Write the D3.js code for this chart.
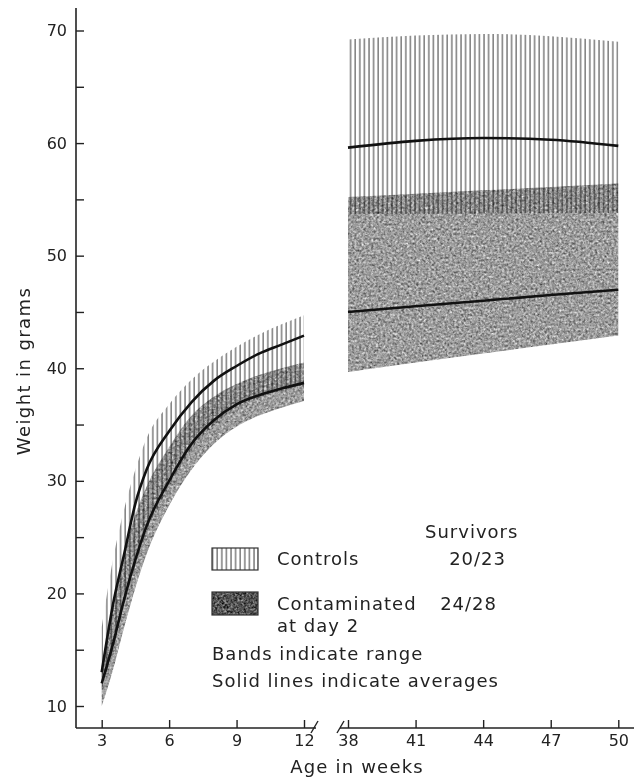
<!DOCTYPE html>
<html><head><meta charset="utf-8">
<script src="https://cdn.jsdelivr.net/npm/d3@7"></script>
<style>
html,body{margin:0;padding:0;background:#fff;}
svg{display:block;}
</style></head><body>
<svg id="chart" width="634" height="783"></svg>
<script>
// ---- data ----
const weeksLeft = [3, 3.5, 4, 4.5, 5, 6, 7, 8, 9, 10, 11, 12];
const controlsUpperLeft = [17, 23, 27.5, 31, 33.8, 36.8, 39, 40.6, 41.9, 43, 43.9, 44.7];
const controlsAvgLeft   = [13, 19, 23.5, 28, 31, 34.4, 37, 38.9, 40.2, 41.3, 42.1, 42.9];
const controlsLowerLeft = [11.5, 15, 19, 22.5, 25.5, 29.5, 32.8, 35, 36.5, 37.4, 38, 38.5];
const contamUpperLeft   = [13.5, 19, 23.5, 27, 29.5, 33, 35.8, 37.5, 38.6, 39.4, 40, 40.5];
const contamAvgLeft     = [12, 15.5, 19.5, 23, 26, 30, 33.3, 35.4, 36.8, 37.6, 38.2, 38.7];
const contamLowerLeft   = [10, 13.2, 17, 20.5, 23.5, 27.8, 31, 33.3, 34.8, 35.8, 36.5, 37.1];

const weeksRight = [38, 41, 44, 47, 50];
const controlsUpperRight = [69.2, 69.55, 69.7, 69.5, 69.0];
const controlsAvgRight   = [59.6, 60.2, 60.45, 60.3, 59.75];
const controlsLowerRight = [53.7, 53.7, 53.75, 53.8, 53.8];
const contamUpperRight   = [55.2, 55.5, 55.8, 56.1, 56.4];
const contamAvgRight     = [45.0, 45.5, 46.0, 46.5, 46.97];
const contamLowerRight   = [39.66, 40.5, 41.3, 42.1, 42.9];

const xTicksLeft = [3, 6, 9, 12];
const xTicksRight = [38, 41, 44, 47, 50];
const yTicks = [10, 15, 20, 25, 30, 35, 40, 45, 50, 55, 60, 65, 70];
const yTickLabels = ["10", "", "20", "", "30", "", "40", "", "50", "", "60", "", "70"];

const xTitle = "Age in weeks";
const yTitle = "Weight in grams";
const legendHeader = "Survivors";
const legendNames = ["Controls", "Contaminated"];
const legendSub = "at day 2";
const legendSurvivors = ["20/23", "24/28"];
const noteLines = ["Bands indicate range", "Solid lines indicate averages"];

// ---- layout ----
const FONT = "DejaVu Sans, sans-serif";
const INK = "#222";
const svg = d3.select("#chart");
const axisX = 76, axisY = 728;
const y = d3.scaleLinear().domain([10, 70]).range([706, 30.5]);
const xL = d3.scaleLinear().domain([3, 12]).range([101.7, 304]);
const xR = d3.scaleLinear().domain([38, 50]).range([348, 618.3]);

const defs = svg.append("defs");
const hatch = defs.append("pattern").attr("id", "hatch")
  .attr("patternUnits", "userSpaceOnUse").attr("width", 4.6).attr("height", 8);
hatch.append("line").attr("x1", 1).attr("x2", 1).attr("y1", 0).attr("y2", 8)
  .attr("stroke", "#4a4a4a").attr("stroke-width", 1.1);

function noiseFilter(id, a, b, seed, freq) {
  const f = defs.append("filter").attr("id", id)
    .attr("x", 0).attr("y", 0).attr("width", 1).attr("height", 1)
    .attr("color-interpolation-filters", "sRGB");
  f.append("feTurbulence").attr("type", "fractalNoise")
    .attr("baseFrequency", freq).attr("numOctaves", 2).attr("seed", seed).attr("result", "n");
  f.append("feColorMatrix").attr("type", "matrix").attr("values",
    `${a} ${a} ${a} 0 ${b}  ${a} ${a} ${a} 0 ${b}  ${a} ${a} ${a} 0 ${b}  0 0 0 0 1`);
}
noiseFilter("noise", 0.42, -0.02, 4, 0.42);
noiseFilter("noiseDark", 0.5, -0.42, 9, 0.45);

function rows(weeks, lo, mid, hi) {
  return weeks.map((w, i) => ({ w, lo: lo[i], mid: mid[i], hi: hi[i] }));
}
const ctrlL = rows(weeksLeft, controlsLowerLeft, controlsAvgLeft, controlsUpperLeft);
const contL = rows(weeksLeft, contamLowerLeft, contamAvgLeft, contamUpperLeft);
const ctrlR = rows(weeksRight, controlsLowerRight, controlsAvgRight, controlsUpperRight);
const contR = rows(weeksRight, contamLowerRight, contamAvgRight, contamUpperRight);

function drawPart(xs, ctrl, cont, key) {
  const area = d3.area().x(d => xs(d.w)).y0(d => y(d.lo)).y1(d => y(d.hi)).curve(d3.curveMonotoneX);
  const line = d3.line().x(d => xs(d.w)).y(d => y(d.mid)).curve(d3.curveMonotoneX);
  // controls band: vertical hatching
  svg.append("path").datum(ctrl).attr("d", area).attr("fill", "url(#hatch)");
  // contaminated band: stipple (multiplied over the hatching)
  defs.append("clipPath").attr("id", "clip" + key).append("path").datum(cont).attr("d", area);
  const r0 = xs.range();
  svg.append("g").attr("clip-path", `url(#clip${key})`).style("mix-blend-mode", "multiply")
    .append("rect").attr("x", r0[0] - 5).attr("width", r0[1] - r0[0] + 10)
    .attr("y", 0).attr("height", axisY).attr("filter", "url(#noise)");
  // averages
  svg.append("path").datum(ctrl).attr("d", line).attr("fill", "none")
    .attr("stroke", "#111").attr("stroke-width", 2.6);
  svg.append("path").datum(cont).attr("d", line).attr("fill", "none")
    .attr("stroke", "#111").attr("stroke-width", 2.6);
}
drawPart(xL, ctrlL, contL, "L");
drawPart(xR, ctrlR, contR, "R");

// ---- axes ----
svg.append("line").attr("x1", axisX).attr("x2", axisX).attr("y1", y(72)).attr("y2", axisY)
  .attr("stroke", INK).attr("stroke-width", 1.6);
svg.append("line").attr("x1", axisX).attr("x2", 316).attr("y1", axisY).attr("y2", axisY)
  .attr("stroke", INK).attr("stroke-width", 1.6);
svg.append("line").attr("x1", 340).attr("x2", 634).attr("y1", axisY).attr("y2", axisY)
  .attr("stroke", INK).attr("stroke-width", 1.6);
// break marks
[[311, 318], [337, 344]].forEach(([a, b]) => {
  svg.append("line").attr("x1", a).attr("y1", axisY + 5).attr("x2", b).attr("y2", axisY - 7)
    .attr("stroke", INK).attr("stroke-width", 1.4);
});

function styleAxis(g) {
  g.select(".domain").remove();
  g.attr("font-family", FONT).attr("font-size", 16);
  g.selectAll(".tick line").attr("stroke", INK).attr("stroke-width", 1.4);
  g.selectAll(".tick text").attr("fill", INK);
}
svg.append("g").attr("transform", `translate(0,${axisY})`)
  .call(d3.axisBottom(xL).tickValues(xTicksLeft).tickSizeInner(-8).tickSizeOuter(0).tickPadding(7))
  .call(styleAxis);
svg.append("g").attr("transform", `translate(0,${axisY})`)
  .call(d3.axisBottom(xR).tickValues(xTicksRight).tickSizeInner(-8).tickSizeOuter(0).tickPadding(7))
  .call(styleAxis);
svg.append("g").attr("transform", `translate(${axisX},0)`)
  .call(d3.axisLeft(y).tickValues(yTicks).tickFormat((d, i) => yTickLabels[i])
    .tickSizeInner(-8).tickSizeOuter(0).tickPadding(9))
  .call(styleAxis);

svg.append("text").attr("x", 357).attr("y", 773).attr("text-anchor", "middle")
  .attr("font-family", FONT).attr("font-size", 18).attr("letter-spacing", 1.2)
  .attr("fill", INK).text(xTitle);
svg.append("text").attr("transform", "translate(30,371) rotate(-90)").attr("text-anchor", "middle")
  .attr("font-family", FONT).attr("font-size", 18).attr("letter-spacing", 1.4)
  .attr("fill", INK).text(yTitle);

// ---- legend ----
const lg = svg.append("g").attr("font-family", FONT).attr("font-size", 18)
  .attr("letter-spacing", 1).attr("fill", INK);
lg.append("text").attr("x", 425).attr("y", 538).text(legendHeader);
lg.append("rect").attr("x", 212).attr("y", 548).attr("width", 46).attr("height", 22)
  .attr("fill", "url(#hatch)").attr("stroke", "#333").attr("stroke-width", 1.2);
lg.append("rect").attr("x", 212).attr("y", 592).attr("width", 46).attr("height", 23)
  .attr("filter", "url(#noiseDark)");
lg.append("rect").attr("x", 212).attr("y", 592).attr("width", 46).attr("height", 23)
  .attr("fill", "none").attr("stroke", "#333").attr("stroke-width", 1.2);
lg.append("text").attr("x", 277).attr("y", 565).text(legendNames[0]);
lg.append("text").attr("x", 506).attr("y", 565).attr("text-anchor", "end").text(legendSurvivors[0]);
lg.append("text").attr("x", 277).attr("y", 610).text(legendNames[1]);
lg.append("text").attr("x", 497).attr("y", 610).attr("text-anchor", "end").text(legendSurvivors[1]);
lg.append("text").attr("x", 277).attr("y", 632).text(legendSub);
lg.append("text").attr("x", 212).attr("y", 660).text(noteLines[0]);
lg.append("text").attr("x", 212).attr("y", 687).text(noteLines[1]);
</script>
</body></html>
